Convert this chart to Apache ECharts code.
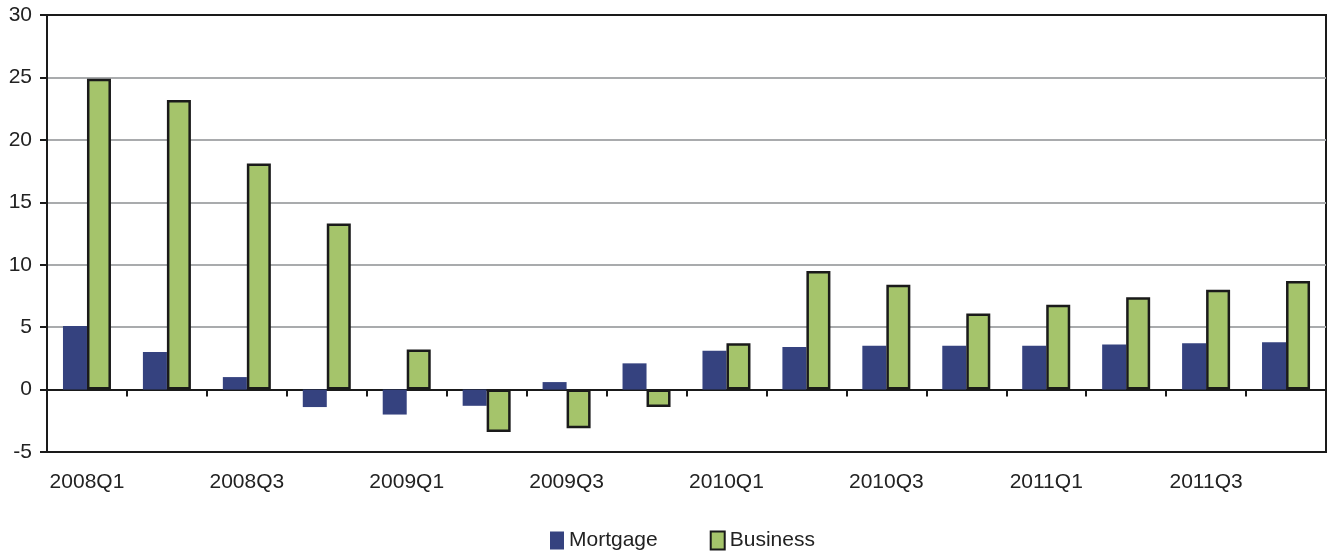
<!DOCTYPE html>
<html>
<head>
<meta charset="utf-8">
<script src="https://cdn.jsdelivr.net/npm/echarts@6/dist/echarts.min.js"></script>
<style>
  html, body { margin: 0; padding: 0; background: #fff; }
  #chart { width: 1328px; height: 554px; }
</style>
</head>
<body>
<div id="chart"></div>
<script>
// Quarterly growth, percent
const quarters = [
  '2008Q1', '2008Q2', '2008Q3', '2008Q4',
  '2009Q1', '2009Q2', '2009Q3', '2009Q4',
  '2010Q1', '2010Q2', '2010Q3', '2010Q4',
  '2011Q1', '2011Q2', '2011Q3', '2011Q4'
];
const mortgage = [5.1, 3.0, 1.0, -1.4, -2.0, -1.3, 0.6, 2.1, 3.1, 3.4, 3.5, 3.5, 3.5, 3.6, 3.7, 3.8];
const business = [24.9, 23.2, 18.1, 13.3, 3.2, -3.4, -3.1, -1.4, 3.7, 9.5, 8.4, 6.1, 6.8, 7.4, 8.0, 8.7];
const yMin = -5, yMax = 30, yStep = 5;

const FONT = 'Liberation Sans, Arial, sans-serif';
const INK = '#1a1a1a';
const chart = echarts.init(document.getElementById('chart'), null, { renderer: 'canvas' });

chart.setOption({
  animation: false,
  backgroundColor: '#ffffff',
  textStyle: { fontFamily: FONT },
  grid: {
    left: 47, right: 2, top: 15, bottom: 102,
    show: true, borderColor: INK, borderWidth: 2, backgroundColor: 'transparent'
  },
  legend: {
    left: 550, top: 530, padding: 0,
    itemWidth: 14, itemHeight: 18, itemGap: 52,
    textStyle: { fontFamily: FONT, fontSize: 21, color: '#222' },
    data: [
      { name: 'Mortgage', icon: 'rect' },
      { name: 'Business', icon: 'rect', itemStyle: { borderColor: INK, borderWidth: 2 } }
    ]
  },
  xAxis: [
    {
      type: 'category', data: quarters, position: 'bottom',
      axisLine: { show: true, onZero: false, lineStyle: { color: INK, width: 2 } },
      axisTick: { show: false },
      axisLabel: { interval: 1, fontSize: 21, color: '#222', margin: 20, fontFamily: FONT },
      splitLine: { show: false }
    },
    {
      // zero line with category tick marks
      type: 'category', data: quarters, position: 'top',
      axisLine: { show: true, onZero: true, lineStyle: { color: INK, width: 2 } },
      axisTick: { show: true, inside: true, length: 7, lineStyle: { color: INK, width: 2 } },
      axisLabel: { show: false },
      splitLine: { show: false }
    }
  ],
  yAxis: {
    type: 'value', min: yMin, max: yMax, interval: yStep,
    axisLine: { show: true, lineStyle: { color: INK, width: 2 } },
    axisTick: { show: true, length: 7, lineStyle: { color: INK, width: 2 } },
    axisLabel: { fontSize: 21, color: '#222', margin: 15, fontFamily: FONT },
    splitLine: {
      show: true, showMinLine: false, showMaxLine: false,
      lineStyle: { color: '#a9abad', width: 2 }
    }
  },
  series: [
    {
      name: 'Mortgage', type: 'bar', xAxisIndex: 0, data: mortgage,
      barWidth: 24, barGap: '0%',
      itemStyle: { color: '#35427f' }
    },
    {
      name: 'Business', type: 'bar', xAxisIndex: 0, data: business,
      barWidth: 24, barGap: '0%',
      itemStyle: { color: '#a5c46b', borderColor: INK, borderWidth: 2.5 }
    }
  ]
});
</script>
</body>
</html>
